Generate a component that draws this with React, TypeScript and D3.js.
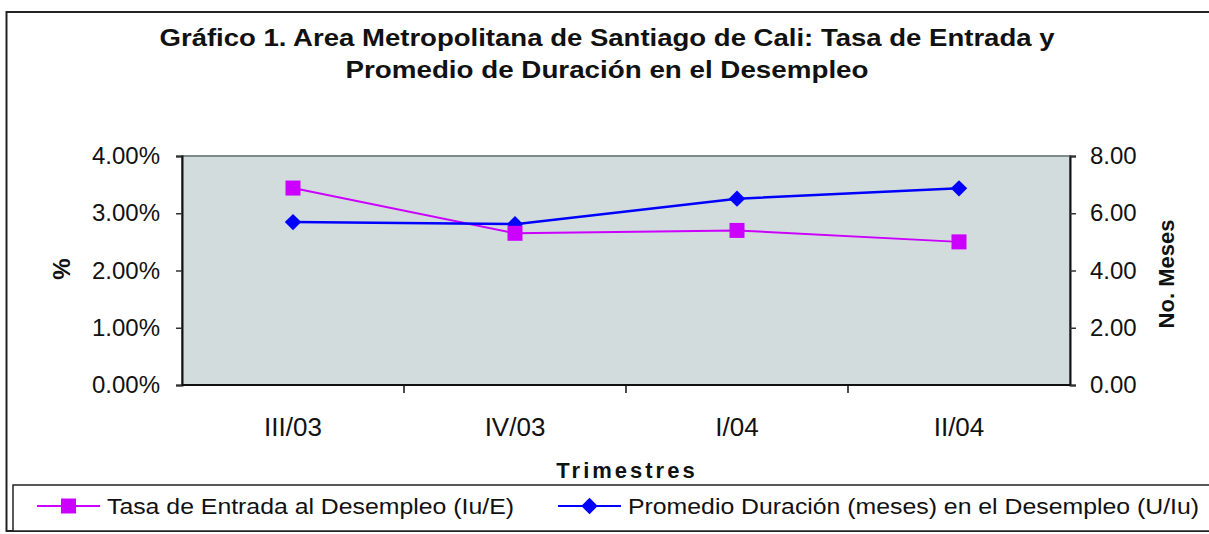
import React, { useEffect, useRef } from "react";
import * as d3 from "d3";

const categories = ["III/03", "IV/03", "I/04", "II/04"];
const tasaEntrada = [0.0344, 0.0265, 0.027, 0.025];
const promedioDuracion = [5.69, 5.62, 6.51, 6.87];
const leftTicks = [0, 0.01, 0.02, 0.03, 0.04];
const rightTicks = [0, 2, 4, 6, 8];

const W = 1209;
const H = 534;
const FONT = "'Liberation Sans', Arial, sans-serif";
const MAGENTA = "#CC00FF";
const BLUE = "#0000FF";

export default function App() {
  const ref = useRef<SVGSVGElement>(null);

  useEffect(() => {
    const svg = d3.select(ref.current);
    svg.selectAll("*").remove();

    const margin = { top: 156, right: W - 1070, bottom: H - 385, left: 182 };

    // outer chart border
    svg
      .append("rect")
      .attr("x", 6.5)
      .attr("y", 12)
      .attr("width", W)
      .attr("height", 519)
      .attr("fill", "white")
      .attr("stroke", "#222")
      .attr("stroke-width", 2);

    // title (the original is rendered a bit wide, so stretch to its width)
    const titleLines = [
      { t: "Gráfico 1. Area Metropolitana de Santiago de Cali: Tasa de Entrada y", y: 46, w: 895 },
      { t: "Promedio de Duración en el Desempleo", y: 78, w: 523 },
    ];
    titleLines.forEach((l) => {
      svg
        .append("text")
        .attr("x", 607)
        .attr("y", l.y)
        .attr("text-anchor", "middle")
        .attr("font-family", FONT)
        .attr("font-weight", "bold")
        .attr("font-size", 24)
        .attr("textLength", l.w)
        .attr("lengthAdjust", "spacingAndGlyphs")
        .attr("fill", "#111")
        .text(l.t);
    });

    const x = d3
      .scaleBand<string>()
      .domain(categories)
      .range([margin.left, W - margin.right]);

    const yL = d3
      .scaleLinear()
      .domain([0, 0.04])
      .range([H - margin.bottom, margin.top]);

    const yR = d3
      .scaleLinear()
      .domain([0, 8])
      .range([H - margin.bottom, margin.top]);

    // plot area
    svg
      .append("rect")
      .attr("x", margin.left)
      .attr("y", margin.top)
      .attr("width", W - margin.right - margin.left)
      .attr("height", H - margin.bottom - margin.top)
      .attr("fill", "#D2DCDC")
      .attr("stroke", "#7f8a8a")
      .attr("stroke-width", 2);

    const styleAxis = (g: any, size: number) => {
      g.select(".domain").attr("stroke", "#111").attr("stroke-width", 2);
      g.selectAll(".tick line").attr("stroke", "#333").attr("stroke-width", 1.5);
      g.selectAll("text")
        .attr("font-family", FONT)
        .attr("font-size", size)
        .attr("fill", "#111");
    };

    svg
      .append("g")
      .attr("transform", `translate(${margin.left},0)`)
      .call(
        d3
          .axisLeft(yL)
          .tickValues(leftTicks)
          .tickFormat(d3.format(".2%"))
          .tickSize(6)
          .tickSizeOuter(6)
          .tickPadding(16)
      )
      .call((g) => styleAxis(g, 24));

    svg
      .append("g")
      .attr("transform", `translate(${W - margin.right},0)`)
      .call(
        d3
          .axisRight(yR)
          .tickValues(rightTicks)
          .tickFormat(d3.format(".2f"))
          .tickSize(6)
          .tickSizeOuter(6)
          .tickPadding(14)
      )
      .call((g) => styleAxis(g, 24));

    // x axis: ticks at band boundaries
    const xAxisG = svg
      .append("g")
      .attr("transform", `translate(0,${H - margin.bottom})`);
    xAxisG
      .append("line")
      .attr("x1", margin.left)
      .attr("x2", W - margin.right)
      .attr("stroke", "#111")
      .attr("stroke-width", 2);
    xAxisG
      .selectAll("line.tk")
      .data(categories.slice(1))
      .join("line")
      .attr("class", "tk")
      .attr("x1", (d) => x(d)!)
      .attr("x2", (d) => x(d)!)
      .attr("y1", 0)
      .attr("y2", 8)
      .attr("stroke", "#111")
      .attr("stroke-width", 1.5);
    xAxisG
      .selectAll("text")
      .data(categories)
      .join("text")
      .attr("x", (d) => x(d)! + x.bandwidth() / 2)
      .attr("y", 51)
      .attr("text-anchor", "middle")
      .attr("font-family", FONT)
      .attr("font-size", 26)
      .attr("fill", "#111")
      .text((d) => d);

    // axis titles
    svg
      .append("text")
      .attr("x", 627)
      .attr("y", 478)
      .attr("text-anchor", "middle")
      .attr("font-family", FONT)
      .attr("font-weight", "bold")
      .attr("font-size", 22)
      .attr("letter-spacing", 3)
      .attr("fill", "#111")
      .text("Trimestres");

    svg
      .append("text")
      .attr("transform", "translate(70,269) rotate(-90)")
      .attr("text-anchor", "middle")
      .attr("font-family", FONT)
      .attr("font-weight", "bold")
      .attr("font-size", 24)
      .attr("fill", "#111")
      .text("%");

    svg
      .append("text")
      .attr("transform", "translate(1174,274) rotate(-90)")
      .attr("text-anchor", "middle")
      .attr("font-family", FONT)
      .attr("font-weight", "bold")
      .attr("font-size", 22)
      .attr("fill", "#111")
      .text("No. Meses");

    const cx = (d: string) => x(d)! + x.bandwidth() / 2;

    // series: Tasa de Entrada (left axis)
    svg
      .append("path")
      .datum(tasaEntrada)
      .attr("fill", "none")
      .attr("stroke", MAGENTA)
      .attr("stroke-width", 2)
      .attr(
        "d",
        d3
          .line<number>()
          .x((d, i) => cx(categories[i]))
          .y((d) => yL(d))
      );

    // series: Promedio Duración (right axis)
    svg
      .append("path")
      .datum(promedioDuracion)
      .attr("fill", "none")
      .attr("stroke", BLUE)
      .attr("stroke-width", 2.5)
      .attr(
        "d",
        d3
          .line<number>()
          .x((d, i) => cx(categories[i]))
          .y((d) => yR(d))
      );

    const sq = d3.symbol().type(d3.symbolSquare).size(225);
    // diamond = square turned 45°
    const dm = d3.symbol().type(d3.symbolSquare).size(135);

    svg
      .append("g")
      .selectAll("path")
      .data(promedioDuracion)
      .join("path")
      .attr("transform", (d, i) => `translate(${cx(categories[i])},${yR(d)}) rotate(45)`)
      .attr("d", dm)
      .attr("fill", BLUE);

    svg
      .append("g")
      .selectAll("path")
      .data(tasaEntrada)
      .join("path")
      .attr("transform", (d, i) => `translate(${cx(categories[i])},${yL(d)})`)
      .attr("d", sq)
      .attr("fill", MAGENTA);

    // legend
    const lg = svg.append("g");
    lg.append("rect")
      .attr("x", 13)
      .attr("y", 485)
      .attr("width", W)
      .attr("height", 46)
      .attr("fill", "white")
      .attr("stroke", "#222")
      .attr("stroke-width", 1.5);

    const items = [
      { label: "Tasa de Entrada al Desempleo (Iu/E)", color: MAGENTA, sym: sq, rot: 0, x0: 37, w: 407 },
      { label: "Promedio Duración (meses) en el Desempleo (U/Iu)", color: BLUE, sym: dm, rot: 45, x0: 558, w: 571 },
    ];
    items.forEach((it) => {
      lg.append("line")
        .attr("x1", it.x0)
        .attr("x2", it.x0 + 63)
        .attr("y1", 506)
        .attr("y2", 506)
        .attr("stroke", it.color)
        .attr("stroke-width", 2);
      lg.append("path")
        .attr("transform", `translate(${it.x0 + 31.5},506) rotate(${it.rot})`)
        .attr("d", it.sym)
        .attr("fill", it.color);
      lg.append("text")
        .attr("x", it.x0 + 70)
        .attr("y", 514)
        .attr("font-family", FONT)
        .attr("font-size", 22)
        .attr("textLength", it.w)
        .attr("lengthAdjust", "spacingAndGlyphs")
        .attr("fill", "#111")
        .text(it.label);
    });
  }, []);

  return (
    <svg
      ref={ref}
      width={W}
      height={H}
      style={{ position: "absolute", left: 0, top: 0, background: "white" }}
    />
  );
}
